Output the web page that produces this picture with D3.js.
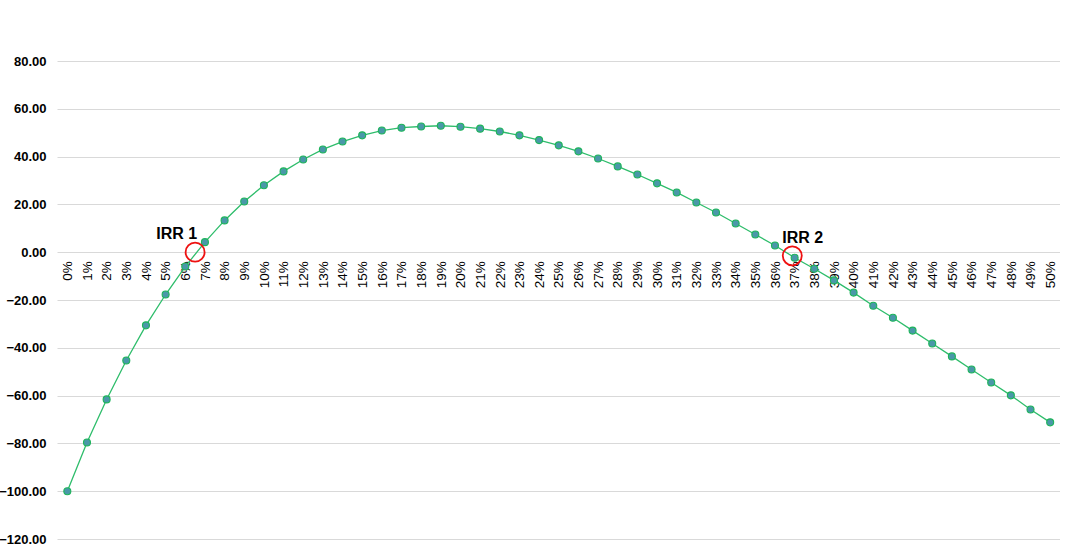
<!DOCTYPE html>
<html>
<head>
<meta charset="utf-8">
<script src="https://cdn.jsdelivr.net/npm/d3@7"></script>
<style>
  body { margin: 0; background: #fff; }
  svg { display: block; font-family: "Liberation Sans", Arial, sans-serif; }
</style>
</head>
<body>
<div id="chart"></div>
<script>
// Discount rates (category axis)
const rates = d3.range(0, 51).map(d => d + "%");

// NPV, one per rate
const npv = [
  -100.0, -79.6, -61.6, -45.3, -30.6, -17.7, -6.0, 4.2, 13.3, 21.2,
  28.0, 33.8, 38.8, 43.0, 46.3, 48.9, 50.9, 52.1, 52.6, 52.9,
  52.5, 51.7, 50.5, 48.9, 46.9, 44.7, 42.2, 39.2, 35.9, 32.5,
  28.8, 25.0, 20.8, 16.6, 12.0, 7.4, 2.8, -2.3, -6.9, -11.8,
  -16.9, -22.4, -27.4, -32.8, -38.2, -43.6, -49.1, -54.5, -59.9, -65.8,
  -71.2
];

// Y axis ticks
const yTicks = [-120, -100, -80, -60, -40, -20, 0, 20, 40, 60, 80];

// IRR annotations: fractional category index and NPV at the marker
const irrLabels = ["IRR 1", "IRR 2"];
const irrIndex = [6.5, 36.88];
const irrValue = [0, -1.5];

// Layout
const width = 1078, height = 556;
const margin = {top: 61, right: 18, bottom: 17, left: 57.5};

const svg = d3.select("#chart").append("svg")
  .attr("width", width)
  .attr("height", height);

const x = d3.scaleBand()
  .domain(rates)
  .range([margin.left, width - margin.right])
  .padding(0);

const y = d3.scaleLinear()
  .domain([-120, 80])
  .range([height - margin.bottom, margin.top]);

const cx = i => x(rates[0]) + x.bandwidth() * (i + 0.5);

// Gridlines
svg.append("g")
  .selectAll("line")
  .data(yTicks)
  .join("line")
    .attr("x1", margin.left)
    .attr("x2", width - margin.right)
    .attr("y1", d => Math.round(y(d)) + 0.5)
    .attr("y2", d => Math.round(y(d)) + 0.5)
    .attr("stroke", "#d9d9d9")
    .attr("stroke-width", 1);

// Y axis labels
const yAxis = d3.axisLeft(y)
  .tickValues(yTicks)
  .tickFormat(d3.format(".2f"))
  .tickSize(0)
  .tickPadding(11);

svg.append("g")
  .attr("transform", `translate(${margin.left},0)`)
  .call(yAxis)
  .call(g => g.select(".domain").remove())
  .call(g => g.selectAll("text")
    .attr("font-family", "Liberation Sans, Arial, sans-serif")
    .attr("font-size", 13)
    .attr("font-weight", "bold")
    .attr("fill", "#000"));

// X axis labels, rotated, sitting at y = 0
const xAxis = d3.axisBottom(x).tickSize(0).tickPadding(0);

svg.append("g")
  .attr("transform", `translate(0,${y(0)})`)
  .call(xAxis)
  .call(g => g.select(".domain").remove())
  .call(g => g.selectAll("text")
    .attr("font-family", "Liberation Sans, Arial, sans-serif")
    .attr("font-size", 13.5)
    .attr("fill", "#000")
    .attr("transform", "rotate(-90)")
    .attr("text-anchor", "end")
    .attr("dy", "0.35em")
    .attr("x", -9)
    .attr("y", 0));

// Series line
const line = d3.line()
  .x((d, i) => cx(i))
  .y(d => y(d));

svg.append("path")
  .datum(npv)
  .attr("fill", "none")
  .attr("stroke", "#2ebd6b")
  .attr("stroke-width", 1.3)
  .attr("d", line);

// Markers
svg.append("g")
  .selectAll("circle")
  .data(npv)
  .join("circle")
    .attr("cx", (d, i) => cx(i))
    .attr("cy", d => y(d))
    .attr("r", 3.5)
    .attr("fill", "#4a98a8")
    .attr("stroke", "#1db45a")
    .attr("stroke-width", 1.1);

// IRR markers
const irr = svg.append("g");

irr.selectAll("circle")
  .data(irrIndex)
  .join("circle")
    .attr("cx", d => cx(d))
    .attr("cy", (d, i) => y(irrValue[i]))
    .attr("r", 9.5)
    .attr("fill", "none")
    .attr("stroke", "#ee1111")
    .attr("stroke-width", 1.8);

irr.selectAll("text")
  .data(irrLabels)
  .join("text")
    .attr("x", (d, i) => i === 0 ? cx(irrIndex[i]) + 2 : cx(irrIndex[i]) - 10)
    .attr("y", (d, i) => y(irrValue[i]) - 13)
    .attr("text-anchor", (d, i) => i === 0 ? "end" : "start")
    .attr("font-family", "Liberation Sans, Arial, sans-serif")
    .attr("font-size", 16)
    .attr("font-weight", "bold")
    .attr("fill", "#000")
    .text(d => d);
</script>
</body>
</html>
